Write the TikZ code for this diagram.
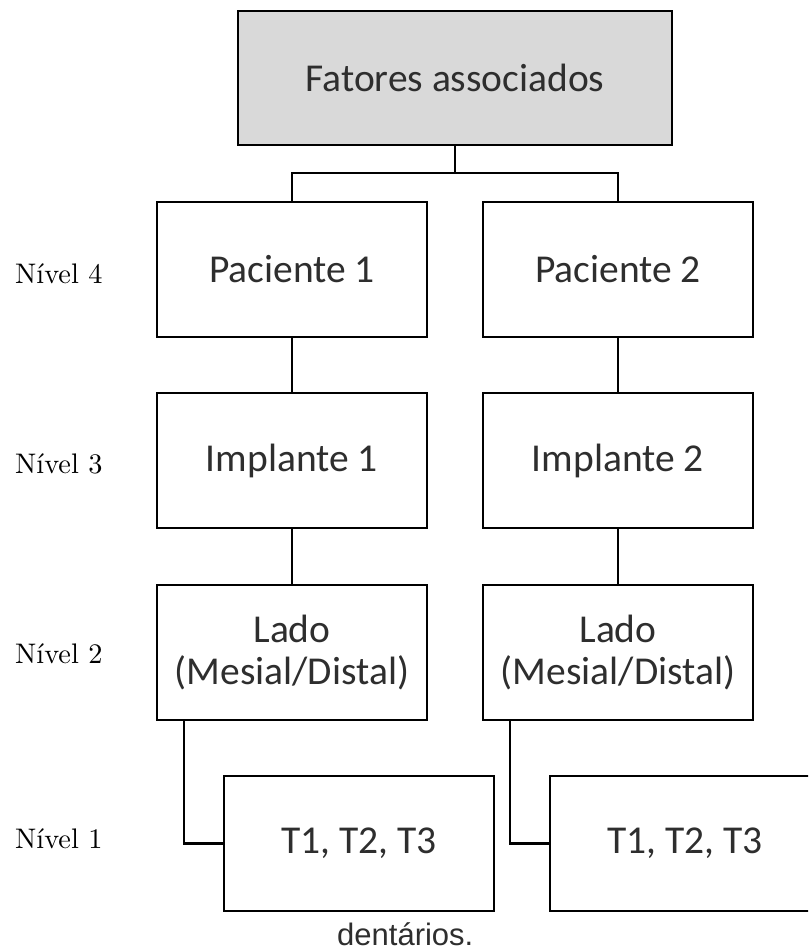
\documentclass[tikz,border=0pt]{standalone}
\usepackage{fontspec}
\newfontfamily\boxfont{Carlito}
\newfontfamily\capfont{Liberation Sans}
\newfontfamily\lvlfont{lmroman10-regular.otf}
\definecolor{boxgray}{HTML}{D9D9D9}
\definecolor{txt}{HTML}{2E2E2E}
\begin{document}
\begin{tikzpicture}[x=1pt,y=-1pt,
  box/.style={draw=black, line width=2.6pt, minimum width=270pt, minimum height=135pt,
    inner sep=0pt, align=center, text=txt, font=\boxfont\fontsize{39.5}{42}\selectfont},
  lvl/.style={anchor=base west, inner sep=0pt, font=\lvlfont\fontsize{28.3}{30}\selectfont},
  conn/.style={line width=2.6pt, line cap=rect}]
\clip (0,0) rectangle (808,952);
\fill[white] (0,0) rectangle (808,952);
% top
\node[box, fill=boxgray, minimum width=434pt, minimum height=134pt] (top) at (455,78) {Fatores associados};
% level 4
\node[box] (p1) at (292,269.5) {Paciente 1};
\node[box] (p2) at (618,269.5) {Paciente 2};
% level 3
\node[box] (i1) at (292,460.5) {Implante 1};
\node[box] (i2) at (618,460.5) {Implante 2};
% level 2
\node[box] (l1) at (292,652.5) {Lado\\(Mesial/Distal)};
\node[box] (l2) at (618,652.5) {Lado\\(Mesial/Distal)};
% level 1
\node[box] (t1) at (359,843.5) {T1, T2, T3};
\node[box] (t2) at (685,843.5) {T1, T2, T3};
% labels
\node[lvl] (n4) at (15,283) {Nível 4};
\node[lvl] (n3) at (15,473) {Nível 3};
\node[lvl] (n2) at (15,663) {Nível 2};
\node[lvl] (n1) at (15,848) {Nível 1};
\node[anchor=base west, inner sep=0pt, text=txt, font=\capfont\fontsize{31}{34}\selectfont] (cap) at (337,945) {dentários.};
% connectors
\coordinate (j) at (455,173);
\draw[conn] (top.south) -- (j);
\draw[line width=2.6pt] (j) -| (p1.north);
\draw[line width=2.6pt] (j) -| (p2.north);
\draw[conn] (p1.south) -- (i1.north);
\draw[conn] (p2.south) -- (i2.north);
\draw[conn] (i1.south) -- (l1.north);
\draw[conn] (i2.south) -- (l2.north);
\coordinate (l1b) at (184,720);
\coordinate (l2b) at (510,720);
\draw[line width=2.6pt] (l1b) |- (t1.west);
\draw[line width=2.6pt] (l2b) |- (t2.west);
\end{tikzpicture}
\end{document}
